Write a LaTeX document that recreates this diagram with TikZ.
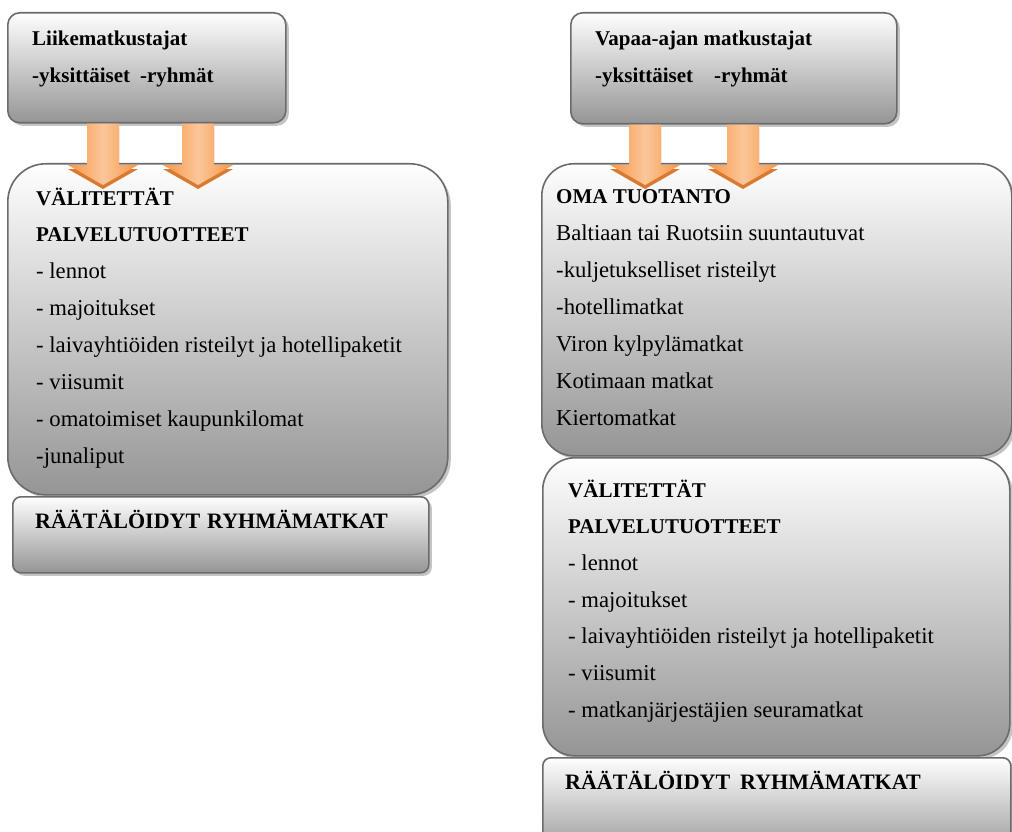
\documentclass[tikz,border=0pt]{standalone}
\usepackage{fontspec}
\setmainfont{Liberation Serif}
\usetikzlibrary{calc,shadows}

\definecolor{edgegray}{HTML}{6B6B6B}
\definecolor{shadowgray}{HTML}{C4C4C4}
\definecolor{boxtop}{HTML}{FEFEFE}
\definecolor{boxbottom}{HTML}{959595}
\definecolor{arrowlight}{HTML}{FBC699}
\definecolor{arrowmid}{HTML}{F79646}
\definecolor{arrowdark}{HTML}{D97A30}

\tikzset{
  panel/.style={draw=edgegray, line width=1.6pt, top color=boxtop,
    bottom color=boxbottom, anchor=north west, inner sep=0pt,
    drop shadow={shadow xshift=3pt, shadow yshift=-3pt, fill=shadowgray, opacity=1}},
  txt/.style={anchor=base west, inner sep=0pt, font=\fontsize{22.7}{26}\selectfont},
  btxt/.style={anchor=base west, inner sep=0pt, font=\fontsize{21}{25}\selectfont\bfseries},
  bigbtxt/.style={anchor=base west, inner sep=0pt, font=\fontsize{22}{26}\selectfont\bfseries},
}

% orange block arrow from #1 (top of shaft) down to #2 (tip)
\newcommand{\blockarrow}[2]{%
  \fill[arrowdark] let \p1=(#1), \p2=(#2) in
    (\x1-16pt,\y1-4pt) -- (\x1+16pt,\y1-4pt) -- (\x1+16pt,\y2+16pt) --
    (\x1+35pt,\y2+16pt) -- (\x1,\y2-4pt) -- (\x1-35pt,\y2+16pt) --
    (\x1-16pt,\y2+16pt) -- cycle;
  \shade[left color=arrowmid, right color=arrowmid, middle color=arrowlight]
    let \p1=(#1), \p2=(#2) in
    (\x1-16pt,\y1) -- (\x1+16pt,\y1) -- (\x1+16pt,\y2+20pt) --
    (\x1+35pt,\y2+20pt) -- (\x1,\y2) -- (\x1-35pt,\y2+20pt) --
    (\x1-16pt,\y2+20pt) -- cycle;
}

\begin{document}
\begin{tikzpicture}[x=1pt, y=-1pt]
\useasboundingbox (0,0) rectangle (1012,832);
\begin{scope}
\clip (0,0) rectangle (1012,832);

% ---- business travellers ----
\node[panel, rounded corners=12pt, minimum width=278pt, minimum height=110pt] (lt) at (7,12) {};
\node[panel, rounded corners=38pt, minimum width=440pt, minimum height=331pt] (lb) at (7,163) {};
\node[panel, rounded corners=8pt, minimum width=416pt, minimum height=76pt] (lr) at (12,496) {};

\node[btxt] (lt1) at (32,46) {Liikematkustajat};
\node[btxt] (lt2) at (32,83) {-yksittäiset\hspace{10pt}-ryhmät};

\node[btxt] (lb1) at (36,205) {VÄLITETTÄT};
\node[btxt] (lb2) at (36,241) {PALVELUTUOTTEET};
\node[txt]  (lb3) at (36,278) {- lennot};
\node[txt]  (lb4) at (36,315) {- majoitukset};
\node[txt]  (lb5) at (36,352) {- laivayhtiöiden risteilyt ja hotellipaketit};
\node[txt]  (lb6) at (36,389) {- viisumit};
\node[txt]  (lb7) at (36,426) {- omatoimiset kaupunkilomat};
\node[txt]  (lb8) at (36,463) {-junaliput};

\node[bigbtxt] (lr1) at (35,528) {RÄÄTÄLÖIDYT\hspace{7pt}RYHMÄMATKAT};

% ---- leisure travellers ----
\node[panel, rounded corners=12pt, minimum width=326pt, minimum height=111pt] (rt) at (570,12) {};
\node[panel, rounded corners=32pt, minimum width=470pt, minimum height=292pt] (rb) at (541,163) {};
\node[panel, rounded corners=32pt, minimum width=467pt, minimum height=298pt] (rm) at (542,457) {};
\node[panel, rounded corners=8pt, minimum width=468pt, minimum height=100pt] (rr) at (542,757) {};

\node[btxt] (rt1) at (595,46) {Vapaa-ajan matkustajat};
\node[btxt] (rt2) at (595,83) {-yksittäiset\hspace{21pt}-ryhmät};

\node[btxt] (rb1) at (556,203) {OMA TUOTANTO};
\node[txt]  (rb2) at (556,240) {Baltiaan tai Ruotsiin suuntautuvat};
\node[txt]  (rb3) at (556,277) {-kuljetukselliset risteilyt};
\node[txt]  (rb4) at (556,314) {-hotellimatkat};
\node[txt]  (rb5) at (556,351) {Viron kylpylämatkat};
\node[txt]  (rb6) at (556,388) {Kotimaan matkat};
\node[txt]  (rb7) at (556,425) {Kiertomatkat};

\node[btxt] (rm1) at (568,497) {VÄLITETTÄT};
\node[btxt] (rm2) at (568,533) {PALVELUTUOTTEET};
\node[txt]  (rm3) at (568,570) {- lennot};
\node[txt]  (rm4) at (568,607) {- majoitukset};
\node[txt]  (rm5) at (568,643) {- laivayhtiöiden risteilyt ja hotellipaketit};
\node[txt]  (rm6) at (568,680) {- viisumit};
\node[txt]  (rm7) at (568,717) {- matkanjärjestäjien seuramatkat};

\node[bigbtxt] (rr1) at (565,789) {RÄÄTÄLÖIDYT\hspace{10pt}RYHMÄMATKAT};

% ---- arrows from the traveller groups into the product boxes ----
\blockarrow{$(lt.south west)+(96,0)$}{$(lb.north west)+(96,22)$}
\blockarrow{$(lt.south west)+(191,0)$}{$(lb.north west)+(191,22)$}
\blockarrow{$(rt.south west)+(75,0)$}{$(rb.north west)+(104,22)$}
\blockarrow{$(rt.south west)+(173,0)$}{$(rb.north west)+(202,22)$}

\end{scope}
\end{tikzpicture}
\end{document}
